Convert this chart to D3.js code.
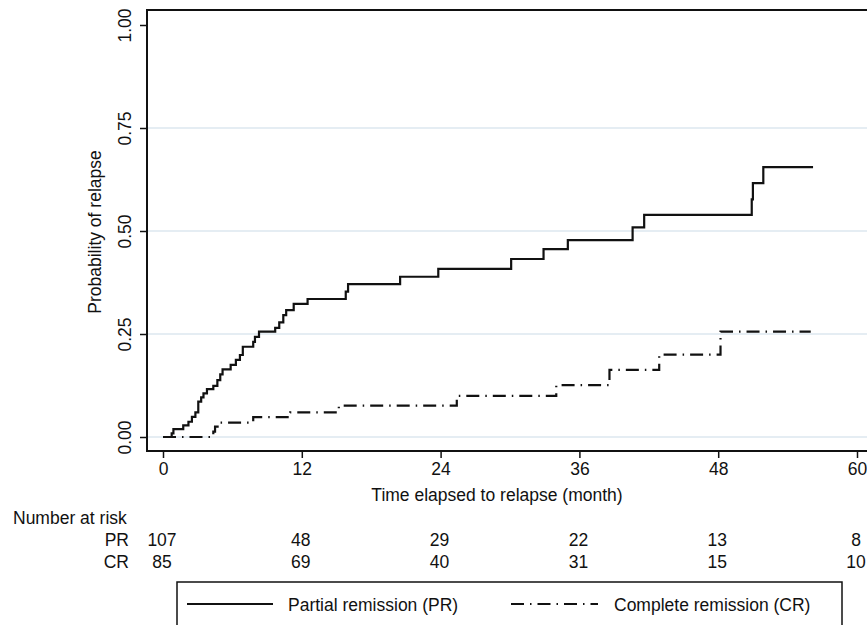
<!DOCTYPE html>
<html>
<head>
<meta charset="utf-8">
<script src="https://cdn.jsdelivr.net/npm/d3@7"></script>
<style>
  body { margin: 0; background: #fff; }
  text { font-family: "Liberation Sans", Arial, Helvetica, sans-serif; fill: #111; }
</style>
</head>
<body>
<svg id="chart" width="867" height="625"></svg>
<script>
// data
var monthTicks = [0, 12, 24, 36, 48, 60];
var probTicks = [0, 0.25, 0.5, 0.75, 1];
var gridTicks = [0, 0.25, 0.5, 0.75];

var prTime = [0, 0.75, 0.9, 1.75, 2.2, 2.5, 2.8, 3.05, 3.3, 3.5, 3.8, 4.35, 4.7, 4.95, 5.15, 5.85, 6.3, 6.65, 6.9, 7.8, 7.95, 8.3, 9.7, 10.05, 10.4, 10.65, 11.3, 12.5, 15.8, 16.0, 20.5, 23.8, 30.1, 32.9, 35.0, 40.6, 41.6, 50.9, 51.0, 51.9, 56.2];
var prProb = [0, 0.009, 0.019, 0.028, 0.037, 0.049, 0.06, 0.086, 0.096, 0.106, 0.116, 0.124, 0.138, 0.152, 0.164, 0.175, 0.187, 0.199, 0.219, 0.231, 0.243, 0.256, 0.265, 0.278, 0.296, 0.308, 0.323, 0.335, 0.353, 0.371, 0.389, 0.408, 0.432, 0.456, 0.478, 0.509, 0.539, 0.577, 0.616, 0.655, 0.655];

var crTime = [0, 4.35, 4.5, 4.87, 7.8, 11.0, 15.2, 25.4, 34.0, 38.6, 42.9, 48.2, 56.0];
var crProb = [0, 0.013, 0.025, 0.035, 0.048, 0.06, 0.076, 0.1, 0.126, 0.163, 0.2, 0.256, 0.256];

var riskGroups = ["PR", "CR"];
var riskPR = [107, 48, 29, 22, 13, 8];
var riskCR = [85, 69, 40, 31, 15, 10];

var legendLabels = ["Partial remission (PR)", "Complete remission (CR)"];

var svg = d3.select("#chart");
var ink = "#111";
var fs = "17.5px";
var crDash = "13,6,1.5,6";

var x = d3.scaleLinear().domain([0, 60]).range([163, 857]);
var y = d3.scaleLinear().domain([0, 1]).range([437, 25]);

var frameLeft = 147, frameTop = 10, frameBottom = 451;

// grid
svg.append("g").selectAll("line")
    .data(gridTicks)
    .enter().append("line")
    .attr("x1", frameLeft).attr("x2", 867)
    .attr("y1", d => y(d)).attr("y2", d => y(d))
    .attr("stroke", "#dce7ef")
    .attr("stroke-width", 1.5);

// frame
svg.append("path")
    .attr("d", "M867," + frameTop + "H" + frameLeft + "V" + frameBottom + "H867")
    .attr("fill", "none")
    .attr("stroke", ink)
    .attr("stroke-width", 2);

// y axis
var yAxis = svg.append("g")
    .attr("transform", "translate(" + frameLeft + ",0)")
    .call(d3.axisLeft(y).tickValues(probTicks).tickFormat(d3.format(".2f")).tickSize(7).tickPadding(0));
yAxis.select(".domain").remove();
yAxis.selectAll(".tick line").attr("stroke", ink).attr("stroke-width", 1.5);
yAxis.selectAll(".tick text")
    .attr("transform", "translate(-22,0) rotate(-90)")
    .attr("x", 0).attr("y", 0).attr("dy", "0.35em")
    .attr("text-anchor", "middle")
    .style("font-size", fs)
    .style("fill", ink);

// x axis
var xAxis = svg.append("g")
    .attr("transform", "translate(0," + frameBottom + ")")
    .call(d3.axisBottom(x).tickValues(monthTicks).tickSize(7).tickPadding(5));
xAxis.select(".domain").remove();
xAxis.selectAll(".tick line").attr("stroke", ink).attr("stroke-width", 1.5);
xAxis.selectAll(".tick text")
    .style("font-size", fs)
    .style("fill", ink);

// axis titles
svg.append("text")
    .attr("transform", "translate(101,232) rotate(-90)")
    .attr("text-anchor", "middle")
    .style("font-size", fs)
    .text("Probability of relapse");

svg.append("text")
    .attr("x", 497).attr("y", 501)
    .attr("text-anchor", "middle")
    .style("font-size", fs)
    .text("Time elapsed to relapse (month)");

// curves
var step = d3.line()
    .x(d => x(d[0]))
    .y(d => y(d[1]))
    .curve(d3.curveStepAfter);

svg.append("path")
    .datum(prTime.map((t, i) => [t, prProb[i]]))
    .attr("d", step)
    .attr("fill", "none")
    .attr("stroke", ink)
    .attr("stroke-width", 2.2);

svg.append("path")
    .datum(crTime.map((t, i) => [t, crProb[i]]))
    .attr("d", step)
    .attr("fill", "none")
    .attr("stroke", ink)
    .attr("stroke-width", 2.2)
    .attr("stroke-dasharray", crDash);

// number at risk table
svg.append("text")
    .attr("x", 13).attr("y", 524)
    .style("font-size", fs)
    .text("Number at risk");

var rows = [riskPR, riskCR];
rows.forEach((vals, r) => {
  var ry = 546 + r * 22;
  svg.append("text")
      .attr("x", 129).attr("y", ry)
      .attr("text-anchor", "end")
      .style("font-size", fs)
      .text(riskGroups[r]);
  svg.append("g").selectAll("text")
      .data(vals)
      .enter().append("text")
      .attr("x", (d, i) => x(monthTicks[i]) - 1)
      .attr("y", ry)
      .attr("text-anchor", "middle")
      .style("font-size", fs)
      .text(d => d);
});

// legend
var legend = svg.append("g");
legend.append("rect")
    .attr("x", 177).attr("y", 582)
    .attr("width", 665).attr("height", 60)
    .attr("fill", "#fff")
    .attr("stroke", ink)
    .attr("stroke-width", 1.5);

var legendItems = [
  {x1: 187, x2: 273, tx: 288, dash: null},
  {x1: 511, x2: 598, tx: 614, dash: crDash}
];
legendItems.forEach((it, i) => {
  legend.append("line")
      .attr("x1", it.x1).attr("x2", it.x2)
      .attr("y1", 604).attr("y2", 604)
      .attr("stroke", ink)
      .attr("stroke-width", 2)
      .attr("stroke-dasharray", it.dash);
  legend.append("text")
      .attr("x", it.tx).attr("y", 605)
      .attr("dy", "0.35em")
      .style("font-size", fs)
      .text(legendLabels[i]);
});
</script>
</body>
</html>
